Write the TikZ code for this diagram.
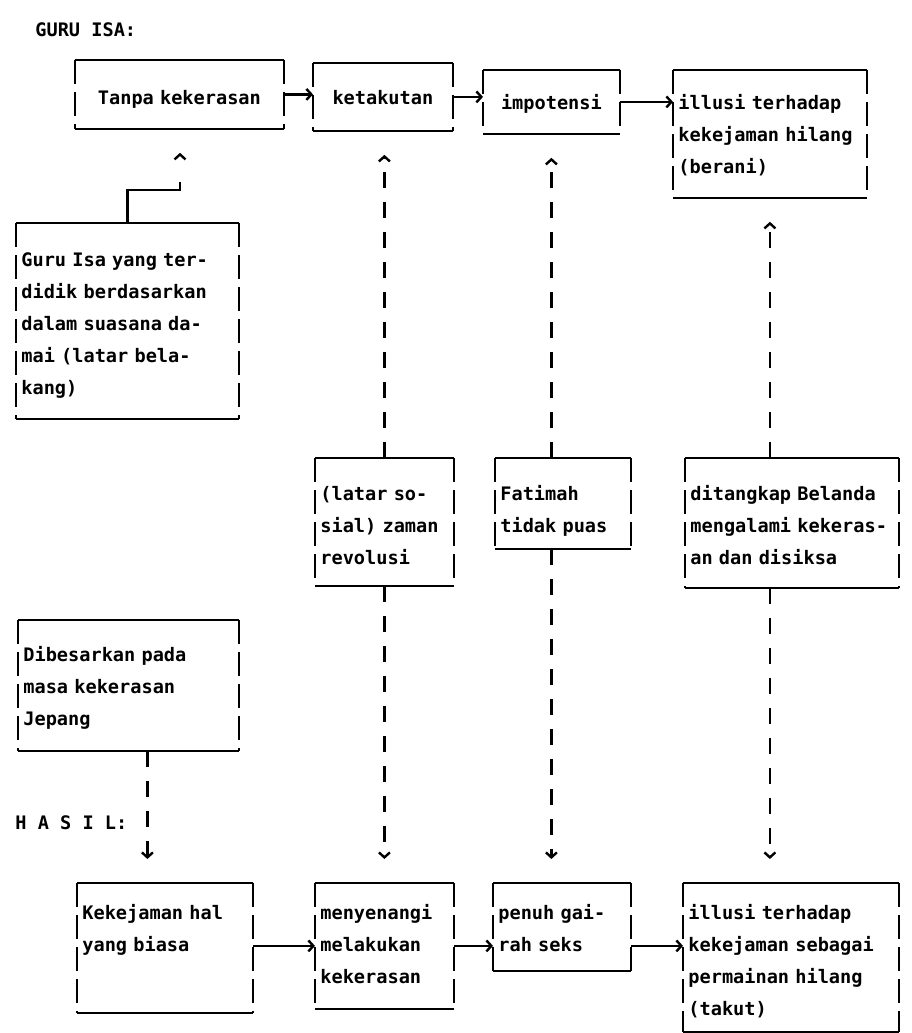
\documentclass[tikz,border=0pt]{standalone}
\usepackage{fontspec}
\setmonofont{DejaVu Sans Mono}
\usepackage{tikz}
\usetikzlibrary{positioning,arrows.meta}

\begin{document}
\begin{tikzpicture}[x=0.5pt, y=-0.5pt,
    teks/.style={inner sep=0pt, font=\ttfamily\bfseries\fontsize{9.3}{16}\selectfont},
    kotak/.style={rectangle, anchor=north west, inner xsep=2.5pt, inner ysep=0pt, text height=21pt, align=left, font=\ttfamily\bfseries\fontsize{9.3}{16}\selectfont},
    garis/.style={line width=1.2pt},
    sisi/.style={line width=1.2pt, dash pattern=on 12pt off 4pt},
    putus/.style={line width=1.2pt, dash pattern=on 8pt off 7pt},
    panah/.style={line width=1.2pt, -{Straight Barb[length=2.5pt,width=5.5pt]}}]
    \fill[white] (0,0) rectangle (911,1033);
    \useasboundingbox (0,0) rectangle (911,1033);

    % Definisi kotak
    \node [teks, anchor=west] (judul) at (35,30) {GURU ISA:};
    \node [kotak, align=center, text width=99pt, text height=22pt, text depth=12pt] (tanpa) at (75,60) {Tanpa kekerasan};
    \node [kotak, align=center, text width=64.5pt, text height=20.5pt, text depth=13pt] (takut) at (313,63) {ketakutan};
    \node [kotak, align=center, text width=63pt, text height=19.5pt, text depth=12pt] (impotensi) at (483,70) {impotensi};
    \node [kotak, text width=91.5pt, text height=19.5pt, text depth=44pt] (ilusiA) at (673,70) {illusi terhadap\\kekejaman hilang\\(berani)};
    \node [kotak, text width=106pt, text height=21.5pt, text depth=76pt] (guru) at (16,223) {Guru Isa yang ter-\\didik berdasarkan\\dalam suasana da-\\mai (latar bela-\\kang)};
    \node [kotak, text width=64pt, text depth=42.5pt] (latar) at (315,458) {(latar so-\\sial) zaman\\revolusi};
    \node [kotak, text width=62.5pt, text depth=24pt] (fatimah) at (495,458) {Fatimah\\tidak puas};
    \node [kotak, text width=101.5pt, text depth=43.5pt] (ditangkap) at (685,458) {ditangkap Belanda\\mengalami kekeras-\\an dan disiksa};
    \node [kotak, text width=105pt, text height=20.5pt, text depth=44.5pt] (dibesarkan) at (18,620) {Dibesarkan pada\\masa kekerasan\\Jepang};
    \node [teks, anchor=west] (hasil) at (15,823) {H A S I L:};
    \node [kotak, text width=82.5pt, text height=18pt, text depth=46.5pt] (kekejaman) at (77,883) {Kekejaman hal\\yang biasa};
    \node [kotak, text width=64pt, text height=18pt, text depth=44.5pt] (menyenangi) at (315,883) {menyenangi\\melakukan\\kekerasan};
    \node [kotak, text width=63.5pt, text height=18pt, text depth=25.5pt] (penuh) at (493,883) {penuh gai-\\rah seks};
    \node [kotak, text width=102.5pt, text height=18pt, text depth=56pt] (ilusiB) at (683,883) {illusi terhadap\\kekejaman sebagai\\permainan hilang\\(takut)};
    \coordinate (tekuk) at (180,190);

    % Garis tepi kotak
    \foreach \n in {tanpa,takut,impotensi,ilusiA,guru,latar,fatimah,ditangkap,dibesarkan,kekejaman,menyenangi,penuh,ilusiB} {
        \draw [garis] (\n.north west) -- (\n.north east);
        \draw [garis] (\n.south west) -- (\n.south east);
        \draw [sisi] (\n.north west) -- (\n.south west);
        \draw [sisi] (\n.north east) -- (\n.south east);
    }

    % Definisi panah
    \draw [panah] (tanpa.east) -- (tanpa.east -| takut.west);
    \draw [panah] (takut.east) -- (takut.east -| impotensi.west);
    \draw [panah] (impotensi.east) -- (impotensi.east -| ilusiA.west);
    \draw [panah, dash pattern=on 47pt off 20pt, shorten >=12pt] (guru.north) |- (tekuk) -- (tekuk |- tanpa.south);
    \draw [putus, panah, shorten >=12pt] (latar.north) -- (latar.north |- takut.south);
    \draw [putus, panah, shorten >=12pt] (impotensi.south |- fatimah.north) -- (impotensi.south);
    \draw [putus, panah, shorten >=12pt] (ilusiA.south |- ditangkap.north) -- (ilusiA.south);
    \draw [putus, panah, shorten >=12pt] (latar.south) -- (latar.south |- menyenangi.north);
    \draw [putus, panah, shorten >=12pt] (impotensi.south |- fatimah.south) -- (impotensi.south |- penuh.north);
    \draw [putus, panah, shorten >=12pt] (ilusiA.south |- ditangkap.south) -- (ilusiA.south |- ilusiB.north);
    \draw [putus, panah, shorten >=12pt] ([xshift=9.5pt]dibesarkan.south) -- ([xshift=9.5pt]dibesarkan.south |- kekejaman.north);
    \draw [panah] (kekejaman.east |- menyenangi.east) -- (menyenangi.west);
    \draw [panah] (menyenangi.east) -- (menyenangi.east -| penuh.west);
    \draw [panah] (penuh.east |- menyenangi.east) -- (ilusiB.west |- menyenangi.east);
\end{tikzpicture}
\end{document}
